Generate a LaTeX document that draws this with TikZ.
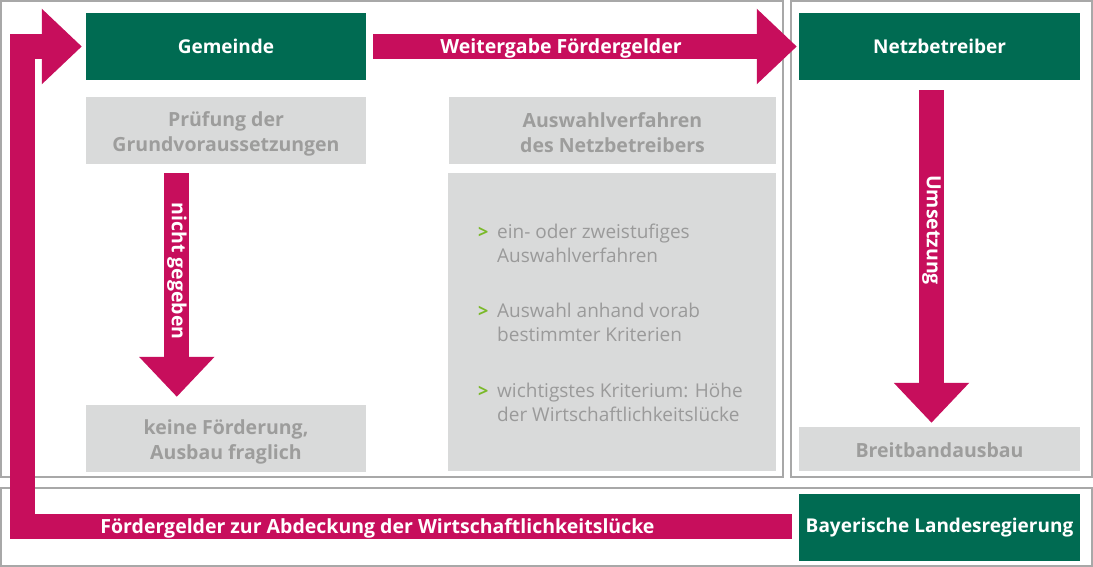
\documentclass[tikz,border=0pt]{standalone}
\usepackage{fontspec}
\setmainfont{Open Sans}
\usetikzlibrary{arrows.meta,calc}
\definecolor{bgreen}{RGB}{0,107,82}
\definecolor{bpink}{RGB}{199,14,92}
\definecolor{bgray}{RGB}{217,218,218}
\definecolor{tgray}{RGB}{157,157,156}
\definecolor{lgray}{RGB}{154,154,154}
\definecolor{fgray}{RGB}{168,168,168}
\definecolor{bullgreen}{RGB}{122,185,41}
\begin{document}
\begin{tikzpicture}[x=1pt,y=-1pt,
  greenbox/.style={fill=bgreen,text=white,font=\bfseries\fontsize{19}{23}\selectfont,inner sep=0pt,minimum height=67pt},
  graybox/.style={fill=bgray,inner sep=0pt},
  graytext/.style={text=tgray,font=\bfseries\fontsize{19.5}{25.5}\selectfont,inner sep=0pt,align=center},
  frame/.style={draw=fgray,line width=1.2pt},
  bigarrow/.style={draw=bpink,line width=25pt,line join=miter,-{Triangle[length=40pt,width=73pt]}},
  arrowtext/.style={text=white,font=\bfseries\fontsize{19.5}{23}\selectfont,inner sep=0pt},
  listtext/.style={text=lgray,font=\fontsize{19}{24.5}\selectfont,inner sep=0pt,align=left,anchor=north west},
  bullet/.style={text=bullgreen,font=\bfseries\fontsize{18}{24.5}\selectfont,inner sep=0pt,anchor=base west}]
\useasboundingbox (0,0) rectangle (1093,567);
\fill[white] (0,0) rectangle (1093,567);
% frames
\draw[frame] (1,1) rectangle (783,477);
\draw[frame] (791,1) rectangle (1092,477);
\draw[frame] (1,488) rectangle (1092,566);
% boxes
\node[greenbox,minimum width=280pt] (gem) at (226,46.5) {Gemeinde};
\node[greenbox,minimum width=281pt] (netz) at (939.5,46.5) {Netzbetreiber};
\node[greenbox,minimum width=281pt] (bay) at (939.5,527.5) {Bayerische Landesregierung};
\node[graybox,minimum width=280pt,minimum height=67pt] (pruef) at (226,130.5) {};
\node[graytext] (pruefT) at ($(pruef.center)+(0,3.5)$) {Prüfung der\\Grundvoraussetzungen};
\node[graybox,minimum width=280pt,minimum height=67pt] (keine) at (226,438.5) {};
\node[graytext] (keineT) at ($(keine.center)+(0,3.5)$) {keine Förderung,\\Ausbau fraglich};
\node[graybox,minimum width=327pt,minimum height=67pt] (ausw) at (612.5,130.5) {};
\node[graytext] (auswT) at ($(ausw.center)+(0,2)$) {Auswahlverfahren\\des Netzbetreibers};
\node[graybox,minimum width=328pt,minimum height=298pt] (liste) at (612,322) {};
\node[graybox,minimum width=281pt,minimum height=44pt] (breit) at (939.5,449) {};
\node[graytext] (breitT) at ($(breit.center)+(0,1)$) {Breitbandausbau};
% list
\node[bullet] (b1) at (478,238) {>};
\node[listtext] (l1) at (497,223.6) {ein- oder zweistufiges\\Auswahlverfahren};
\node[bullet] (b2) at (478,317) {>};
\node[listtext] (l2) at (497,302.6) {Auswahl anhand vorab\\bestimmter Kriterien};
\node[bullet] (b3) at (478,397) {>};
\node[listtext] (l3) at (497,382.6) {wichtigstes Kriterium: Höhe\\der Wirtschaftlichkeitslücke};
% arrows
\draw[bigarrow,shorten >=2pt] ($(gem.east)+(7,0)$) -- (netz.west);
\node[arrowtext] (tw) at (561,48.5) {Weitergabe Fördergelder};
\coordinate (lbot) at (22,526.5);
\coordinate (ltop) at (22,46.5);
\draw[bigarrow,shorten >=4pt] ($(bay.west)+(-7,-1)$) -- (lbot) -- (ltop) -- (gem.west);
\node[arrowtext] (tf) at (377.5,528.5) {Fördergelder zur Abdeckung der Wirtschaftlichkeitslücke};
\draw[bigarrow,shorten >=8pt] ($(pruef.south west)+(91,9)$) -- ($(keine.north west)+(91,0)$);
\node[arrowtext,rotate=-90] (tn) at (177,271) {nicht gegeben};
\draw[bigarrow,shorten >=4pt] ($(netz.south)+(-8,10)$) -- ($(breit.north)+(-8,0)$);
\node[arrowtext,rotate=-90] (tu) at (931.5,230) {Umsetzung};
\end{tikzpicture}
\end{document}
